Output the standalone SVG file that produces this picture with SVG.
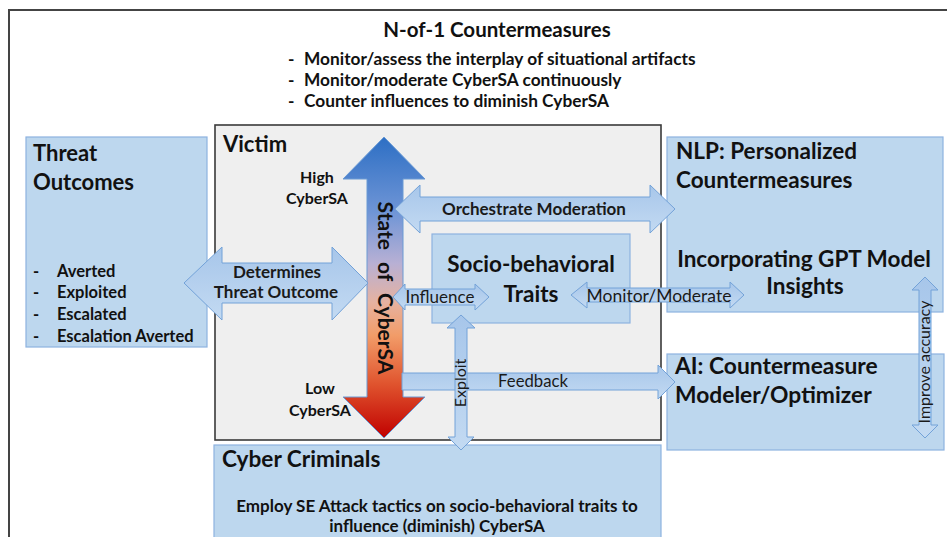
<svg xmlns="http://www.w3.org/2000/svg" width="947" height="537" viewBox="0 0 947 537">
<defs>
<style>
.t{font-family:Lato,"Liberation Sans",sans-serif;fill:#111;}
.b{font-weight:bold;}
.box{fill:#bdd7ee;stroke:#8db2df;stroke-width:1.2;}
.arr{fill:url(#ag);stroke:#73a2d8;stroke-width:1;}
.lbl{font-family:Lato,"Liberation Sans",sans-serif;fill:#1a1a1a;}
</style>
<linearGradient id="ag" x1="0" y1="0" x2="0" y2="1">
<stop offset="0" stop-color="#a7c6ea"/>
<stop offset="1" stop-color="#c3daf2"/>
</linearGradient>
<linearGradient id="sg" gradientUnits="userSpaceOnUse" x1="0" y1="137" x2="0" y2="438">
<stop offset="0" stop-color="#2d6fc4"/>
<stop offset="0.25" stop-color="#6f95d6"/>
<stop offset="0.42" stop-color="#b8b0d4"/>
<stop offset="0.55" stop-color="#e6b2a0"/>
<stop offset="0.66" stop-color="#f29c68"/>
<stop offset="0.82" stop-color="#e0542e"/>
<stop offset="1" stop-color="#c00000"/>
</linearGradient>
</defs>
<rect width="947" height="537" fill="#ffffff"/>
<path d="M9,537 V10 H947" fill="none" stroke="#444" stroke-width="2"/>

<g id="countermeasures">
<text class="t b" x="497" y="37" font-size="20.5" text-anchor="middle">N-of-1 Countermeasures</text>
<text class="t b" font-size="17.3"><tspan x="288" y="65">-</tspan><tspan x="304" y="65">Monitor/assess the interplay of situational artifacts</tspan></text>
<text class="t b" font-size="17.3"><tspan x="288" y="86">-</tspan><tspan x="304" y="86">Monitor/moderate CyberSA continuously</tspan></text>
<text class="t b" font-size="17.3"><tspan x="288" y="107">-</tspan><tspan x="304" y="107">Counter influences to diminish CyberSA</tspan></text>
</g>

<g id="threat-outcomes">
<rect class="box" x="26" y="137" width="181" height="210"/>
<text class="t b" x="33" y="161" font-size="22">Threat</text>
<text class="t b" x="33" y="190" font-size="22">Outcomes</text>
<text class="t b" font-size="16.5"><tspan x="33" y="277">-</tspan><tspan x="57" y="277">Averted</tspan></text>
<text class="t b" font-size="16.5"><tspan x="33" y="298">-</tspan><tspan x="57" y="298">Exploited</tspan></text>
<text class="t b" font-size="16.5"><tspan x="33" y="320">-</tspan><tspan x="57" y="320">Escalated</tspan></text>
<text class="t b" font-size="16.5"><tspan x="33" y="342">-</tspan><tspan x="57" y="342">Escalation Averted</tspan></text>
</g>

<g id="victim">
<rect x="215" y="125" width="446" height="315" fill="#efefef" stroke="#3a3a3a" stroke-width="1.6"/>
<text class="t b" x="223" y="152" font-size="22">Victim</text>
<text class="t b" x="317" y="183" font-size="16" text-anchor="middle">High</text>
<text class="t b" x="317" y="204" font-size="16" text-anchor="middle">CyberSA</text>
<text class="t b" x="320" y="394" font-size="16" text-anchor="middle">Low</text>
<text class="t b" x="320" y="416" font-size="16" text-anchor="middle">CyberSA</text>
</g>

<g id="state-of-cybersa">
<polygon points="384,137 425,179 403,179 403,397 425,397 384,438 343,397 367,397 367,179 343,179" fill="url(#sg)" stroke="#6a9ad4" stroke-width="1"/>
<text class="t b" x="0" y="0" font-size="21" text-anchor="middle" word-spacing="7" transform="translate(378,288) rotate(90)">State of CyberSA</text>
</g>

<g id="socio-behavioral-traits">
<rect class="box" x="432" y="234" width="198" height="89"/>
<text class="t b" x="531" y="272" font-size="22.5" text-anchor="middle">Socio-behavioral</text>
<text class="t b" x="531" y="302" font-size="22.5" text-anchor="middle">Traits</text>
</g>

<g id="nlp">
<rect class="box" x="667" y="137" width="276" height="175"/>
<text class="t b" x="676" y="159" font-size="22.5">NLP: Personalized</text>
<text class="t b" x="676" y="188" font-size="22.5">Countermeasures</text>
<text class="t b" x="804" y="267" font-size="22.5" text-anchor="middle">Incorporating GPT Model</text>
<text class="t b" x="805" y="294" font-size="22.5" text-anchor="middle">Insights</text>
</g>

<g id="ai">
<rect class="box" x="667" y="354" width="277" height="96"/>
<text class="t b" x="675" y="374" font-size="22.8">AI: Countermeasure</text>
<text class="t b" x="675" y="403" font-size="22.8">Modeler/Optimizer</text>
</g>

<g id="cyber-criminals">
<rect class="box" x="214" y="445" width="447" height="100"/>
<text class="t b" x="222" y="467" font-size="22.6">Cyber Criminals</text>
<text class="t b" x="437" y="512" font-size="17" text-anchor="middle">Employ SE Attack tactics on socio-behavioral traits to</text>
<text class="t b" x="437" y="532" font-size="17" text-anchor="middle">influence (diminish) CyberSA</text>
</g>

<g id="connectors">
<polygon class="arr" points="184,283 222,247 222,263 332,263 332,247 368,283 332,320 332,303 222,303 222,320"/>
<text class="lbl b" x="277" y="278" font-size="17" text-anchor="middle">Determines</text>
<text class="lbl b" x="276" y="298" font-size="17" text-anchor="middle">Threat Outcome</text>

<polygon class="arr" points="395,209 420,185 420,197 650,197 650,185 675,209 650,233 650,221 420,221 420,233"/>
<text class="lbl b" x="534" y="215" font-size="17" text-anchor="middle">Orchestrate Moderation</text>

<polygon class="arr" points="393,297 405,284 405,289 475,289 475,284 489,297 475,310 475,305 405,305 405,310"/>
<text class="lbl" x="440" y="303" font-size="17" text-anchor="middle">Influence</text>

<polygon class="arr" points="571,295 587,282 587,288 730,288 730,282 744,295 730,308 730,302 587,302 587,308"/>
<text class="lbl" x="659" y="302" font-size="17.5" text-anchor="middle">Monitor/Moderate</text>

<polygon class="arr" points="402,373 658,373 658,365 675,382 658,399 658,390 402,390"/>
<text class="lbl" x="533" y="387" font-size="16.7" text-anchor="middle">Feedback</text>

<polygon class="arr" points="461,315 475,328 467,328 467,437 474,437 461,450 448,437 455,437 455,328 447,328"/>
<text class="lbl" x="0" y="0" font-size="16" text-anchor="middle" transform="translate(466,383) rotate(-90)">Exploit</text>

<polygon class="arr" points="925,277 938,290 931,290 931,425 938,425 925,438 912,425 919,425 919,290 912,290"/>
<text class="lbl" x="0" y="0" font-size="16" text-anchor="middle" transform="translate(930,362) rotate(-90)">Improve accuracy</text>
</g>
</svg>
